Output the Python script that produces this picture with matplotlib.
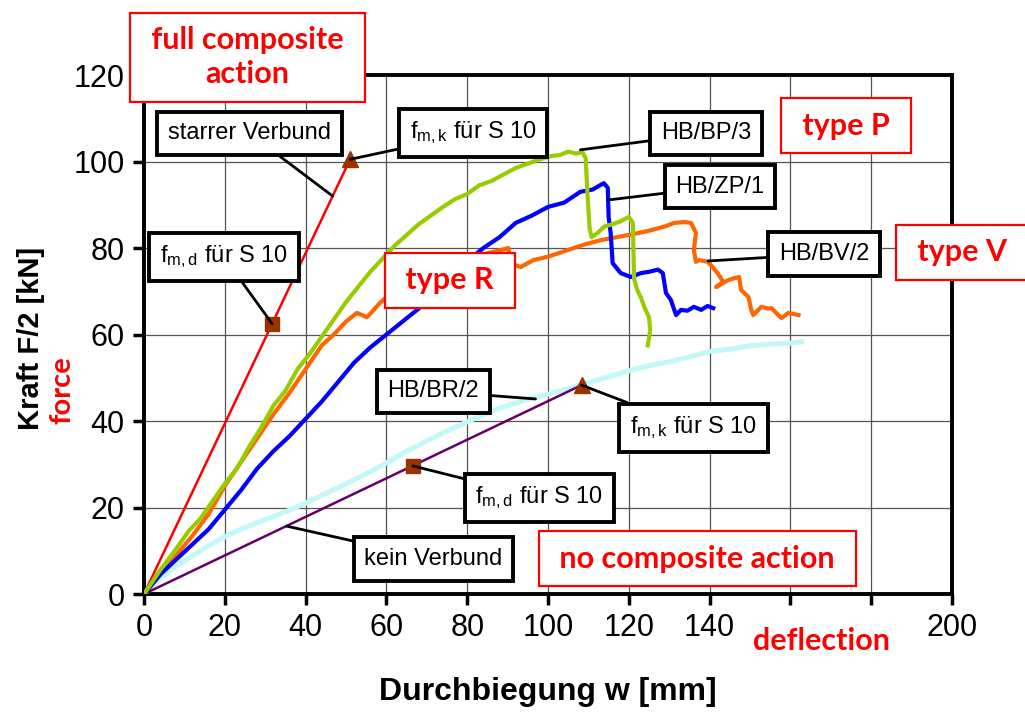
import matplotlib
matplotlib.use('Agg')
import matplotlib.pyplot as plt

plt.rcParams['font.family'] = ['Liberation Sans', 'DejaVu Sans']
plt.rcParams['mathtext.fontset'] = 'custom'
plt.rcParams['mathtext.rm'] = 'Liberation Sans'
plt.rcParams['mathtext.it'] = 'Liberation Sans'

# --- test curves: deflection w [mm], force F/2 [kN] ---
bp3_w = [0, 4, 8, 11, 14, 17, 20, 23, 26, 29, 32, 35, 38, 41, 44, 47, 50, 53, 56, 59,
         62, 65, 68, 71, 74, 77, 80, 83, 86, 89, 92, 95, 98, 101, 103, 105, 107, 108.5,
         109.3, 109.8, 110.3, 110.8, 112.3, 114, 116, 118, 120, 121, 121.3, 122, 123,
         124, 125, 125.3, 124.7]
bp3_F = [0, 5.5, 10.5, 14.5, 17.5, 21.5, 25.5, 29, 34, 38.5, 43.5, 47, 52, 55.5, 59.5,
         63.5, 67.5, 71, 74.5, 77.5, 80.5, 83, 85.5, 87.5, 89.5, 91.3, 92.5, 94.5, 95.5,
         97, 98.5, 99.5, 100.5, 101.3, 101.5, 102.3, 101.8, 102.2, 100.8, 92, 84.5, 82.5,
         83.5, 85, 85.5, 86.2, 87.2, 85.8, 73, 70.5, 68.5, 66, 64, 61, 57.5]

zp1_w = [0, 4, 8, 12, 16, 20, 24, 28, 32, 36, 40, 44, 48, 52, 56, 60, 64, 68, 72, 76,
         80, 84, 88, 92, 96, 100, 104, 108, 111, 113.8, 114.8, 115, 115.5, 116, 118,
         120.5, 123, 125, 127.2, 128.4, 129.2, 130.4, 131.7, 132.9, 134.5, 136.1, 137.9,
         139.5, 140.9]
zp1_F = [0, 4.5, 8, 11.5, 15, 19.5, 24, 29, 33, 36.5, 40.5, 44.5, 49, 53.5, 57, 60, 63,
         66, 70, 74.2, 77, 80, 82.5, 85.8, 87.5, 89.5, 90.5, 93, 93.5, 95, 93.9, 87.2,
         83.5, 76.5, 74.2, 73.3, 74.2, 74.5, 75, 74.2, 69.6, 68, 64.5, 65.7, 65.5, 66.4,
         65.7, 66.6, 66.1]

bv2_w = [0, 4, 8, 12, 16, 20, 24, 28, 32, 36, 40, 44, 47, 50, 52.7, 55.2, 58.4, 61,
         63.4, 67, 71.6, 76, 80, 85, 88.2, 90.2, 90.7, 93.2, 96.4, 100, 104.8, 109, 113,
         117, 121, 125, 129, 131.2, 133.7, 135.4, 136.6, 136.1, 136.6, 137.4, 139.6, 142,
         143.4, 141.6, 144.6, 146.1, 147.3, 147.8, 149.6, 150.3, 150.8, 152.8, 154.5,
         155.3, 157, 157.8, 159.5, 162]
bv2_F = [0, 4.5, 9, 13.5, 18.5, 25, 30.5, 36, 41.5, 46.5, 52, 57.5, 60, 63, 65, 64, 67.3,
         69.5, 71.9, 73, 74.2, 75.5, 76.5, 78.8, 79.5, 80, 76.5, 75.6, 77.2, 78, 79.5,
         80.8, 81.8, 82.5, 83.2, 84, 85, 85.8, 86, 85.8, 83.5, 79.5, 76.8, 77.2, 76.8,
         74.2, 72.1, 71, 72.6, 73, 73.3, 70.3, 68.7, 65.7, 64.5, 66.4, 66, 66.1, 64.5,
         63.8, 65, 64.5]

br2_w = [0, 4, 8, 12, 15.4, 20, 24, 28, 32, 36, 40, 44, 48, 52, 56, 60, 65, 70, 75, 80,
         85, 90, 95, 100, 105, 110, 115, 120, 125, 130, 135, 140, 145, 150, 155, 160, 162.7]
br2_F = [0, 3.5, 6.5, 8.8, 10.9, 13.2, 15, 16.5, 17.9, 19.4, 21, 22.8, 24.6, 26.4, 28.3,
         30.3, 33, 35.4, 37.7, 39.8, 41.9, 43.6, 45, 46.2, 47.5, 48.9, 50.2, 51.6, 52.8,
         53.7, 54.8, 56.1, 56.6, 57.4, 57.8, 58, 58.3]

# --- theoretical limits ---
rigid_w = [0, 51.0]
rigid_F = [0, 100.5]
rigid_fmd = (31.7, 62.5)
rigid_fmk = (51.0, 100.5)

loose_w = [0, 108.3]
loose_F = [0, 48.3]
loose_fmd = (66.6, 29.6)
loose_fmk = (108.3, 48.3)

x_ticks = list(range(0, 201, 20))
y_ticks = list(range(0, 121, 20))

fig = plt.figure(figsize=(10.25, 7.15), dpi=100)
ax = fig.add_axes([0.1405, 0.1692, 0.7883, 0.7259])
ax.set_xlim(0, 200)
ax.set_ylim(0, 120)
ax.set_xticks(x_ticks)
ax.set_yticks(y_ticks)
ax.set_xticklabels(['' if v in (160, 180) else str(v) for v in x_ticks])
ax.grid(color='#555555', lw=0.9)
ax.set_axisbelow(True)
for s in ax.spines.values():
    s.set_linewidth(2.8)
ax.tick_params(direction='out', length=8, width=2.5, labelsize=22, pad=6)

ax.plot(br2_w, br2_F, color='#c4f7f7', lw=3.6, zorder=3)
ax.plot(loose_w, loose_F, color='#660066', lw=1.8, zorder=4)
ax.plot(rigid_w, rigid_F, color='#ff0000', lw=1.8, zorder=4)
ax.plot(bv2_w, bv2_F, color='#ff6600', lw=3.0, zorder=5)
ax.plot(zp1_w, zp1_F, color='#0000ff', lw=3.0, zorder=5)
ax.plot(bp3_w, bp3_F, color='#99cc00', lw=3.0, zorder=5)

for pt in (rigid_fmd, loose_fmd):
    ax.plot(*pt, marker='s', ms=10, color='#993300', zorder=6)
for pt in (rigid_fmk, loose_fmk):
    ax.plot(*pt, marker='^', ms=12, color='#993300', zorder=6)

black_box = dict(boxstyle='square,pad=0.45', fc='white', ec='black', lw=2.8)
lead = dict(arrowstyle='-', color='black', lw=2, shrinkA=0, shrinkB=0)
fmk = r'f$_{\mathrm{m,k}}$ für S 10'
fmd = r'f$_{\mathrm{m,d}}$ für S 10'
labels = [
    ('starrer Verbund', (46.7, 92.0), (26.1, 106.5)),
    (fmk, rigid_fmk, (81.5, 106.6)),
    (fmd, rigid_fmd, (19.8, 77.9)),
    ('HB/BP/3', (108.0, 102.7), (139.1, 106.5)),
    ('HB/ZP/1', (114.8, 91.1), (142.5, 94.2)),
    ('HB/BV/2', (139.6, 77.0), (168.3, 78.6)),
    ('HB/BR/2', (96.9, 45.1), (71.6, 46.9)),
    (fmk, loose_fmk, (136.0, 38.4)),
    (fmd, loose_fmd, (97.9, 22.3)),
    ('kein Verbund', (35.3, 15.7), (71.6, 8.1)),
]
for txt, xy, xytext in labels:
    ax.annotate(txt, xy=xy, xytext=xytext, ha='center', va='center', fontsize=17,
                bbox=black_box, arrowprops=lead, zorder=7, annotation_clip=False)

red_box = dict(boxstyle='square,pad=0.45', fc='white', ec='#ff0000', lw=1.6)
red_font = dict(family=['Lato', 'DejaVu Sans'], weight='bold', color='#ff0000',
                fontsize=22, ha='center', va='center', zorder=8, clip_on=False)
ax.text(25.6, 124.1, ' full composite \naction', bbox=red_box, linespacing=1.25, **red_font)
ax.text(173.7, 108.3, ' type P ', bbox=red_box, **red_font)
ax.text(202.5, 79.0, ' type V ', bbox=red_box, **red_font)
ax.text(75.7, 72.5, ' type R ', bbox=red_box, **red_font)
ax.text(137.0, 8.2, ' no composite action ', bbox=red_box, **red_font)
ax.text(167.7, -10.9, 'deflection', **red_font)

ax.set_xlabel('Durchbiegung w [mm]', fontsize=23, fontweight='bold', va='center')
ax.xaxis.set_label_coords(0.5, -0.189)
ax.set_ylabel('Kraft F/2 [kN]', fontsize=21, fontweight='bold', va='center')
ax.yaxis.set_label_coords(-0.14, 0.493)
fig.text(62 / 1025, 1 - 390 / 715, 'force', rotation=90, ha='center', va='center',
         family=['Lato', 'DejaVu Sans'], weight='bold', color='#ff0000', fontsize=21)

fig.savefig('out.png', dpi=100)
